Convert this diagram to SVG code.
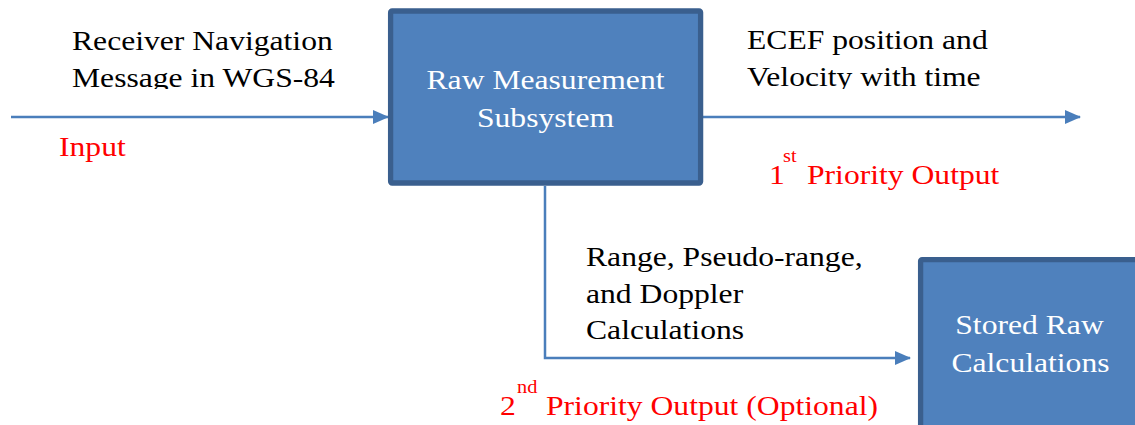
<svg xmlns="http://www.w3.org/2000/svg" width="1135" height="425" viewBox="0 0 1135 425">
<style>
.box{fill:#4F81BD;stroke:#3A5F8E;stroke-width:5.3}
.conn{fill:none;stroke:#4A7EBB;stroke-width:2.5}
.t{font-family:"Liberation Serif","Times New Roman",serif;font-size:28px}
.k{fill:#000}
.w{fill:#fff}
.r{fill:#FF0000}
.sup{font-size:18px}
</style>
<defs>
<marker id="arr" markerWidth="8" markerHeight="8" refX="7" refY="4" orient="auto" markerUnits="userSpaceOnUse" viewBox="0 0 8 8">
<path d="M0,0 L8,4 L0,8 Z" fill="#4A7EBB"/>
</marker>
<marker id="arrw" markerWidth="16" markerHeight="14" refX="15" refY="7" orient="auto" markerUnits="userSpaceOnUse" viewBox="0 0 16 14">
<path d="M0,0 L16,7 L0,14 Z" fill="#4A7EBB"/>
</marker>
<clipPath id="clipTop"><rect x="0" y="0" width="1135" height="89"/></clipPath>
</defs>
<rect width="1135" height="425" fill="#fff"/>
<g id="connectors">
<line class="conn" x1="11" y1="117" x2="388" y2="117" marker-end="url(#arrw)"/>
<line class="conn" x1="703" y1="117" x2="1080" y2="117" marker-end="url(#arrw)"/>
<polyline class="conn" points="545,186 545,358 910,358" marker-end="url(#arrw)"/>
</g>
<g id="raw-measurement">
<rect class="box" x="390.6" y="11" width="310" height="172" rx="1.5"/>
<text class="t w" text-anchor="middle" transform="translate(545.5,89) scale(1.13,1)">Raw Measurement</text>
<text class="t w" text-anchor="middle" transform="translate(545.5,127) scale(1.13,1)">Subsystem</text>
</g>
<g id="stored-raw">
<rect class="box" x="920.6" y="259.6" width="220" height="172" rx="1.5"/>
<text class="t w" text-anchor="middle" transform="translate(1029.5,334) scale(1.13,1)">Stored Raw</text>
<text class="t w" text-anchor="middle" transform="translate(1030.5,372) scale(1.13,1)">Calculations</text>
</g>
<g id="input-label" clip-path="url(#clipTop)">
<text class="t k" transform="translate(72,50) scale(1.13,1)">Receiver Navigation</text>
<text class="t k" transform="translate(72,86.5) scale(1.13,1)">Message in WGS-84</text>
</g>
<text class="t r" transform="translate(59,156) scale(1.13,1)">Input</text>
<g id="output-label" clip-path="url(#clipTop)">
<text class="t k" transform="translate(747,49) scale(1.13,1)">ECEF position and</text>
<text class="t k" transform="translate(747,86) scale(1.13,1)">Velocity with time</text>
</g>
<g id="first-priority">
<text class="t r" transform="translate(769,184) scale(1.13,1)">1</text>
<text class="t r sup" transform="translate(783,162) scale(1.13,1)">st</text>
<text class="t r" transform="translate(807,184) scale(1.13,1)">Priority Output</text>
</g>
<g id="range-label">
<text class="t k" transform="translate(586,266) scale(1.13,1)">Range, Pseudo-range,</text>
<text class="t k" transform="translate(586,303) scale(1.13,1)">and Doppler</text>
<text class="t k" transform="translate(586,339) scale(1.13,1)">Calculations</text>
</g>
<g id="second-priority">
<text class="t r" transform="translate(500,415) scale(1.13,1)">2</text>
<text class="t r sup" transform="translate(517,393) scale(1.13,1)">nd</text>
<text class="t r" transform="translate(546,415) scale(1.13,1)">Priority Output (Optional)</text>
</g>
</svg>
